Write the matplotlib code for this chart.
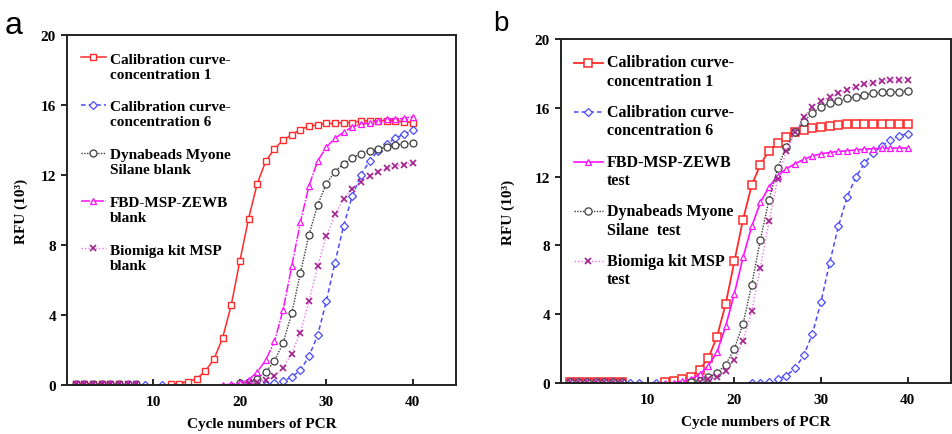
import numpy as np
import matplotlib
matplotlib.use('Agg')
import matplotlib.pyplot as plt
from matplotlib.legend_handler import HandlerLine2D

N = None
cycles = np.arange(1, 41)

# panel a: blanks (values in 10^3 RFU, cycles 1..40, None = not plotted)
a_cal1 = [0.08, 0.08, 0.08, 0.05, 0.05, 0.05, N, N, N, N,
          N, 0.04, 0.08, 0.2, 0.36, 0.8, 1.47, 2.7, 4.57, 7.1,
          9.5, 11.5, 12.8, 13.5, 14.0, 14.3, 14.6, 14.8, 14.86, 14.95,
          14.95, 15.0, 15.0, 15.1, 15.1, 15.1, 15.1, 15.07, 15.05, 15.0]
a_cal6 = [0.02, 0.02, 0.02, 0.02, 0.02, 0.02, 0.02, 0.02, 0.02, N,
          0.02, N, N, N, N, N, N, N, N, N,
          N, 0.0, 0.02, 0.1, 0.23, 0.45, 0.85, 1.65, 2.85, 4.8,
          7.0, 9.1, 10.8, 12.0, 12.8, 13.4, 13.8, 14.1, 14.35, 14.55]
a_dyna = [0.03, 0.03, 0.03, 0.03, 0.03, 0.03, 0.03, 0.03, N, N,
          N, N, N, N, N, N, N, N, N, 0.1,
          0.15, 0.36, 0.74, 1.37, 2.4, 4.1, 6.4, 8.6, 10.3, 11.5,
          12.2, 12.65, 13.0, 13.2, 13.4, 13.5, 13.6, 13.7, 13.8, 13.83]
a_fbd = [0.03, 0.03, 0.03, 0.03, 0.03, 0.03, 0.03, 0.03, N, N,
         N, N, N, N, N, N, N, 0.0, 0.05, 0.1,
         0.3, 0.74, 1.43, 2.5, 4.3, 6.8, 9.3, 11.4, 12.8, 13.6,
         14.1, 14.45, 14.75, 14.9, 15.0, 15.1, 15.2, 15.2, 15.25, 15.33]
a_bio = [0.03, 0.03, 0.03, 0.03, 0.03, 0.03, 0.03, 0.03, N, N,
         N, N, N, N, N, N, N, N, N, N,
         0.1, 0.15, 0.3, 0.5, 1.0, 1.8, 3.0, 4.8, 6.8, 8.5,
         9.75, 10.65, 11.2, 11.6, 11.95, 12.2, 12.4, 12.5, 12.6, 12.7]

# panel b: tests
b_cal1 = [0.05, 0.05, 0.05, 0.05, 0.05, 0.05, 0.05, N, N, N,
          N, 0.04, 0.1, 0.23, 0.37, 0.78, 1.45, 2.7, 4.6, 7.07,
          9.5, 11.5, 12.7, 13.5, 13.95, 14.3, 14.6, 14.7, 14.8, 14.9,
          14.95, 15.0, 15.05, 15.05, 15.05, 15.05, 15.05, 15.05, 15.05, 15.05]
b_cal6 = [0.05, 0.05, 0.05, 0.05, 0.05, 0.05, 0.05, 0.02, 0.02, N,
          0.02, N, N, N, N, N, N, N, N, N,
          N, 0.0, 0.0, 0.08, 0.23, 0.43, 0.85, 1.6, 2.85, 4.73,
          7.0, 9.1, 10.8, 11.96, 12.77, 13.35, 13.8, 14.13, 14.38, 14.5]
b_fbd = [0.03, 0.03, 0.03, 0.03, 0.03, 0.03, 0.03, N, N, N,
         N, 0.0, 0.02, 0.1, 0.23, 0.5, 1.0, 1.8, 3.3, 5.2,
         7.3, 9.1, 10.5, 11.4, 12.05, 12.45, 12.75, 13.0, 13.2, 13.33,
         13.4, 13.47, 13.5, 13.55, 13.6, 13.62, 13.64, 13.66, 13.66, 13.66]
b_dyna = [0.05, 0.05, 0.05, 0.05, 0.05, 0.05, 0.05, N, N, N,
          N, N, N, N, 0.05, 0.1, 0.33, 0.58, 1.07, 2.0,
          3.43, 5.7, 8.33, 10.66, 12.5, 13.74, 14.6, 15.2, 15.7, 16.03,
          16.3, 16.4, 16.55, 16.65, 16.75, 16.85, 16.9, 16.94, 16.94, 17.0]
b_bio = [0.05, 0.05, 0.05, 0.05, 0.05, 0.05, 0.05, N, N, N,
         N, N, N, N, N, 0.05, 0.23, 0.33, 0.7, 1.33,
         2.45, 4.17, 6.7, 9.4, 11.86, 13.5, 14.57, 15.45, 16.07, 16.4,
         16.6, 16.84, 17.05, 17.23, 17.38, 17.44, 17.58, 17.62, 17.6, 17.64]

labels_a = ['Calibration curve-\nconcentration 1', 'Calibration curve-\nconcentration 6',
            'Dynabeads Myone\nSilane blank', 'FBD-MSP-ZEWB\nblank',
            'Biomiga kit MSP\nblank']
labels_b = ['Calibration curve-\nconcentration 1', 'Calibration curve-\nconcentration 6',
            'FBD-MSP-ZEWB\ntest', 'Dynabeads Myone\nSilane  test',
            'Biomiga kit MSP\ntest']

RED = '#ff2a2a'
BLUE = '#4b4bff'
GREY = '#3c3c3c'
MAG = '#ff10ff'
PURP = '#a0208c'
PINK = '#f070f0'

plt.rcParams['font.family'] = 'Liberation Serif'
plt.rcParams['font.weight'] = 'bold'


class TopLine(HandlerLine2D):
    # put the handle next to the first line of a two-line label
    def create_artists(self, legend, orig_handle, xdescent, ydescent,
                       width, height, fontsize, trans):
        arts = super().create_artists(legend, orig_handle, xdescent, ydescent,
                                      width, height, fontsize, trans)
        for art in arts:
            art.set_ydata(np.asarray(art.get_ydata(), float) + 0.6 * fontsize)
        return arts


def series(vals):
    return np.array([np.nan if v is None else v for v in vals], dtype=float)


def style(ax, ypad):
    ax.set_xlim(0, 45)
    ax.set_ylim(0, 20)
    ax.set_xticks([10, 20, 30, 40])
    ax.set_yticks([0, 4, 8, 12, 16, 20])
    ax.tick_params(axis='x', direction='in', length=4, width=1.2,
                   labelsize=11, pad=7)
    ax.tick_params(axis='y', direction='out', length=4, width=1.2,
                   labelsize=11, pad=4)
    for lab in ax.get_xticklabels() + ax.get_yticklabels():
        lab.set_fontweight('bold')
    for sp in ax.spines.values():
        sp.set_linewidth(1.4)
        sp.set_color('#222222')
    ax.set_xlabel('Cycle numbers of PCR', fontsize=11, fontweight='bold',
                  labelpad=7)
    ax.set_ylabel('RFU (10³)', fontsize=11, fontweight='bold', labelpad=ypad)


fig = plt.figure(figsize=(9.52, 4.35), dpi=100)
ax1 = fig.add_axes([0.0704, 0.1126, 0.4086, 0.8046])
ax2 = fig.add_axes([0.5893, 0.1172, 0.4097, 0.7908])

# panel a
h = []
h += ax1.plot(cycles, series(a_cal1), '-', color=RED, lw=1.1, marker='s', ms=5,
              mfc='white', mec=RED, mew=1.0)
h += ax1.plot(cycles, series(a_cal6), color=BLUE, ls=(0, (3, 2)), lw=1.1, marker='D',
              ms=3.6, mfc='white', mec=BLUE, mew=0.9)
h += ax1.plot(cycles, series(a_dyna), color=GREY, ls=(0, (1, 1)), lw=1.0, marker='o',
              ms=5, mfc='white', mec=GREY, mew=0.9)
h += ax1.plot(cycles, series(a_fbd), color=MAG, ls=(0, (6, 1, 1, 1)), lw=1.1, marker='^',
              ms=4.5, mfc='white', mec=MAG, mew=0.9)
h += ax1.plot(cycles, series(a_bio), color=PINK, ls=(0, (1, 1.5)), lw=1.0, marker='x',
              ms=4, mec=PURP, mew=1.2)
style(ax1, 9)
ax1.legend(h, labels_a, loc='upper left', bbox_to_anchor=(0.035, 0.95),
           frameon=False, fontsize=11, handlelength=1.65, handletextpad=0.25,
           labelspacing=1.3, borderpad=0, borderaxespad=0,
           handler_map={l: TopLine() for l in h})

# panel b
h = []
h += ax2.plot(cycles, series(b_cal1), '-', color=RED, lw=1.3, marker='s', ms=6,
              mfc='white', mec=RED, mew=1.1)
h += ax2.plot(cycles, series(b_cal6), color=BLUE, ls=(0, (3, 2)), lw=1.1, marker='D',
              ms=4.2, mfc='white', mec=BLUE, mew=0.9)
h += ax2.plot(cycles, series(b_fbd), '-', color=MAG, lw=1.2, marker='^',
              ms=4.8, mfc='white', mec=MAG, mew=0.9)
h += ax2.plot(cycles, series(b_dyna), color=GREY, ls=(0, (1, 1)), lw=1.0, marker='o',
              ms=5.2, mfc='white', mec=GREY, mew=0.9)
h += ax2.plot(cycles, series(b_bio), color=PINK, ls=(0, (1, 1.5)), lw=1.0, marker='x',
              ms=4.2, mec=PURP, mew=1.2)
style(ax2, 14)
ax2.legend(h, labels_b, loc='upper left', bbox_to_anchor=(0.033, 0.955),
           frameon=False, fontsize=11.5, handlelength=1.8, handletextpad=0.25,
           labelspacing=0.95, borderpad=0, borderaxespad=0,
           handler_map={l: TopLine() for l in h})

fig.text(0.005, 0.975, 'a', fontsize=23, family='Liberation Sans',
         fontweight='normal', va='top')
fig.text(0.518, 0.975, 'b', fontsize=20, family='Liberation Sans',
         fontweight='normal', va='top')

fig.savefig('out.png', dpi=100)
